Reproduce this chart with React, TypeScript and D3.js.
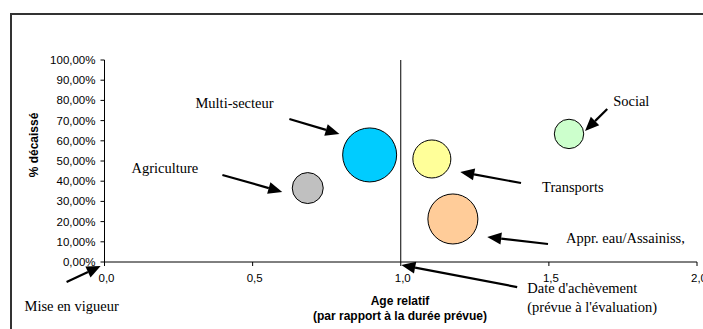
import React from "react";
import * as d3 from "d3";

// ---- data ----
const sectors = ["Multi-secteur", "Agriculture", "Transports", "Appr. eau/Assainiss,", "Social"];
const ageRelatif = [0.895, 0.686, 1.105, 1.176, 1.568];
const pctDecaisse = [53, 36.6, 51, 21.3, 63.4];
const bubbleSize = [729, 240, 361, 625, 216];
const bubbleColors = ["#00CCFF", "#C0C0C0", "#FFFF99", "#FFCC99", "#CCFFCC"];

const yTicks = [0, 10, 20, 30, 40, 50, 60, 70, 80, 90, 100];
const yTickLabels = ["0,00%", "10,00%", "20,00%", "30,00%", "40,00%", "50,00%", "60,00%", "70,00%", "80,00%", "90,00%", "100,00%"];
const xTicks = [0, 0.5, 1, 1.5, 2];
const xTickLabels = ["0,0", "0,5", "1,0", "1,5", "2,0"];

// annotations (data coordinates: age, %)
const annLabels = ["Multi-secteur", "Agriculture", "Social", "Transports", "Appr. eau/Assainiss,", "Date d'achèvement", "(prévue à l'évaluation)", "Mise en vigueur"];
const annX = [0.307, 0.091, 1.717, 1.477, 1.558, 1.427, 1.427, -0.27];
const annY = [76.2, 44.1, 77.2, 34.7, 9.4, -15.3, -24.7, -24.3];

const arrowFromX = [0.624, 0.398, 1.697, 1.406, 1.497, 1.393, -0.128];
const arrowFromY = [70.8, 43.1, 75.7, 39.1, 8.9, -12.4, -9.9];
const arrowToX = [0.793, 0.6, 1.622, 1.201, 1.292, 1.002, -0.013];
const arrowToY = [63.4, 34.7, 64.9, 44.6, 12.4, -1.5, -2.0];

const W = 703;
const H = 329;
const x0 = 104.5;
const x1 = 697;
const yTop = 60;
const yBot = 262;

export default function App() {
  const x = d3.scaleLinear().domain([0, 2]).range([x0, x1]);
  const y = d3.scaleLinear().domain([0, 100]).range([yBot, yTop]);
  const r = d3.scaleSqrt().domain([0, d3.max(bubbleSize)!]).range([0, 27]);

  const sans = "'Liberation Sans', Arial, sans-serif";
  const serif = "'Liberation Serif', 'Times New Roman', serif";

  const arrows = arrowFromX.map((fx, i) => {
    const ax = x(fx), ay = y(arrowFromY[i]);
    const bx = x(arrowToX[i]), by = y(arrowToY[i]);
    const ang = Math.atan2(by - ay, bx - ax);
    const L = 14, Wd = 6;
    const baseX = bx - L * Math.cos(ang), baseY = by - L * Math.sin(ang);
    const px = -Math.sin(ang) * Wd, py = Math.cos(ang) * Wd;
    const head = `M${bx},${by}L${baseX + px},${baseY + py}L${baseX - px},${baseY - py}Z`;
    return { ax, ay, baseX, baseY, head };
  });

  const order = d3.range(sectors.length);

  return (
    <svg width={W} height={H} style={{ position: "absolute", left: 0, top: 0, background: "#fff" }}>
      {/* frame */}
      <rect x={11} y={14} width={900} height={500} fill="none" stroke="#333" strokeWidth={2} />

      {/* y axis */}
      <line x1={x0} x2={x0} y1={yTop} y2={yBot} stroke="#000" strokeWidth={1} />
      {yTicks.map((t, i) => (
        <g key={"yt" + i}>
          <line x1={x0 - 4} x2={x0} y1={y(t)} y2={y(t)} stroke="#000" />
          <text x={x0 - 9} y={y(t) + 4} textAnchor="end" fontFamily={sans} fontSize={11.5} fill="#000">
            {yTickLabels[i]}
          </text>
        </g>
      ))}

      {/* x axis */}
      <line x1={x0} x2={x1} y1={yBot} y2={yBot} stroke="#000" strokeWidth={1} />
      {xTicks.map((t, i) => (
        <g key={"xt" + i}>
          <line x1={x(t)} x2={x(t)} y1={yBot} y2={yBot + 4} stroke="#000" />
          <text x={x(t) + 2} y={yBot + 20} textAnchor="middle" fontFamily={sans} fontSize={11.5} fill="#000">
            {xTickLabels[i]}
          </text>
        </g>
      ))}

      {/* vertical line at 1.0 */}
      <line x1={x(1)} x2={x(1)} y1={y(100)} y2={yBot} stroke="#000" strokeWidth={1} />

      {/* axis titles */}
      <text transform={`translate(38,145) rotate(-90)`} textAnchor="middle" fontFamily={sans} fontWeight="bold" fontSize={12} fill="#000">
        % décaissé
      </text>
      <text x={400} y={305} textAnchor="middle" fontFamily={sans} fontWeight="bold" fontSize={12} fill="#000">
        Age relatif
      </text>
      <text x={400} y={320} textAnchor="middle" fontFamily={sans} fontWeight="bold" fontSize={12} fill="#000">
        (par rapport à la durée prévue)
      </text>

      {/* bubbles */}
      {order.map((i) => (
        <circle key={"b" + i} cx={x(ageRelatif[i])} cy={y(pctDecaisse[i])} r={r(bubbleSize[i])} fill={bubbleColors[i]} stroke="#000" strokeWidth={1} />
      ))}

      {/* arrows */}
      {arrows.map((a, i) => (
        <g key={"a" + i}>
          <line x1={a.ax} y1={a.ay} x2={a.baseX} y2={a.baseY} stroke="#000" strokeWidth={2.2} />
          <path d={a.head} fill="#000" />
        </g>
      ))}

      {/* labels */}
      {annLabels.map((l, i) => (
        <text key={"l" + i} x={x(annX[i])} y={y(annY[i])} fontFamily={serif} fontSize={14.5} fill="#000">
          {l}
        </text>
      ))}
    </svg>
  );
}
